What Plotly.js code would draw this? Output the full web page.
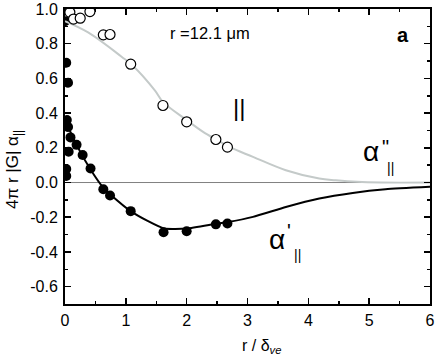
<!DOCTYPE html>
<html>
<head>
<meta charset="utf-8">
<script src="https://cdn.plot.ly/plotly-3.0.1.min.js"></script>
<style>
  html, body { margin: 0; padding: 0; background: #fff; }
  #chart { width: 436px; height: 358px; }
</style>
</head>
<body>
<div id="chart"></div>
<script>
// measured alpha'' (open circles)
const openX = [0.08, 0.14, 0.25, 0.41, 0.63, 0.74, 1.08, 1.61, 2.00, 2.48, 2.67];
const openY = [0.981, 0.942, 0.947, 0.985, 0.851, 0.853, 0.682, 0.444, 0.350, 0.248, 0.204];

// measured alpha' (filled circles)
const fillX = [0.00, 0.02, 0.05, 0.03, 0.05, 0.09, 0.19, 0.06, 0.29, 0.42, 0.02, 0.02, 0.63, 0.74, 1.08, 1.62, 2.00, 2.48, 2.67];
const fillY = [0.93, 0.69, 0.575, 0.36, 0.32, 0.26, 0.217, 0.178, 0.159, 0.081, 0.078, 0.038, -0.039, -0.075, -0.165, -0.287, -0.281, -0.241, -0.236];

// model curves
const grayX = [0, 0.38, 0.93, 1.12, 1.48, 1.61, 2.0, 2.27, 2.5, 2.7, 3.09, 3.63, 4.18, 4.45, 4.8, 5.2, 6.0];
const grayY = [0.93, 0.865, 0.725, 0.672, 0.53, 0.465, 0.36, 0.292, 0.245, 0.205, 0.148, 0.071, 0.023, 0.013, 0.004, 0.0, 0.0];
const blackX = [0, 0.2, 0.42, 0.63, 0.75, 1.08, 1.35, 1.63, 2.0, 2.48, 2.68, 3.09, 3.63, 4.18, 4.73, 5.27, 6.0];
const blackY = [0.36, 0.21, 0.075, -0.03, -0.07, -0.165, -0.22, -0.265, -0.265, -0.238, -0.228, -0.198, -0.141, -0.092, -0.06, -0.039, -0.025];

const yTicks = [-0.6, -0.4, -0.2, 0.0, 0.2, 0.4, 0.6, 0.8, 1.0];
const yTickText = ['-0.6', '-0.4', '-0.2', '0.0', '0.2', '0.4', '0.6', '0.8', '1.0'];
const xTicks = [0, 1, 2, 3, 4, 5, 6];

const font = 'Liberation Sans, Arial, sans-serif';

const traces = [
  {
    x: blackX, y: blackY, type: 'scatter', mode: 'lines',
    line: { color: '#000', width: 2, shape: 'spline', smoothing: 0.5 },
    hoverinfo: 'skip'
  },
  {
    x: fillX, y: fillY, type: 'scatter', mode: 'markers',
    marker: { size: 10, color: '#000', line: { width: 0 } }
  },
  {
    x: grayX, y: grayY, type: 'scatter', mode: 'lines',
    line: { color: '#c4cac9', width: 2, shape: 'spline', smoothing: 1 },
    hoverinfo: 'skip'
  },
  {
    x: openX, y: openY, type: 'scatter', mode: 'markers',
    marker: { size: 10, color: '#fff', line: { width: 1.2, color: '#000' } }
  }
];

function axis(extra) {
  return Object.assign({
    showline: true, linewidth: 2, linecolor: '#000', mirror: 'ticks',
    ticks: 'inside', ticklen: 6, tickwidth: 1.5, tickcolor: '#000',
    showgrid: false, zeroline: false,
    tickfont: { family: font, size: 16, color: '#000' }
  }, extra);
}

const note = (text, x, y, size, extra) => Object.assign({
  text, x, y, xref: 'x', yref: 'y', showarrow: false,
  xanchor: 'center', yanchor: 'middle',
  font: { family: font, size, color: '#000' }
}, extra);

const layout = {
  width: 436, height: 358,
  margin: { l: 65, r: 6, t: 9, b: 54 },
  paper_bgcolor: '#fff', plot_bgcolor: '#fff',
  showlegend: false,
  xaxis: axis({
    range: [0, 6], tickvals: xTicks,
    minor: { dtick: 0.5, ticks: 'inside', ticklen: 3, tickwidth: 1.5, tickcolor: '#000' },
    ticklabelstandoff: 1
  }),
  yaxis: axis({
    range: [-0.7, 1.0], tickvals: yTicks, ticktext: yTickText,
    minor: { dtick: 0.1, ticks: 'inside', ticklen: 3, tickwidth: 1.5, tickcolor: '#000' },
    ticklabelstandoff: 2
  }),
  shapes: [
    { type: 'line', xref: 'x', yref: 'y', x0: 0, x1: 6, y0: 0, y1: 0, line: { color: '#808080', width: 1 }, layer: 'below' }
  ],
  annotations: [
    note('r =12.1 μm', 2.38, 0.86, 16.5),
    note('<b>a</b>', 5.55, 0.85, 20),
    note('||', 2.86, 0.43, 24),
    note('α', 5.03, 0.176, 28),
    note('"', 5.27, 0.205, 20),
    note('||', 5.35, 0.085, 14),
    note('α', 3.48, -0.33, 28),
    note("'", 3.68, -0.28, 20),
    note('||', 3.82, -0.42, 14),
    note('r / δ<sub><i>ve</i></sub>', (261 - 65) / 365, -(346 - 304) / 295, 16, { xref: 'paper', yref: 'paper' }),
    note('4π r |G| α<sub>||</sub>', (14 - 65) / 365, (304 - 170) / 295, 17, { xref: 'paper', yref: 'paper', textangle: -90 })
  ]
};

Plotly.newPlot('chart', traces, layout, { displayModeBar: false, staticPlot: true });
</script>
</body>
</html>
